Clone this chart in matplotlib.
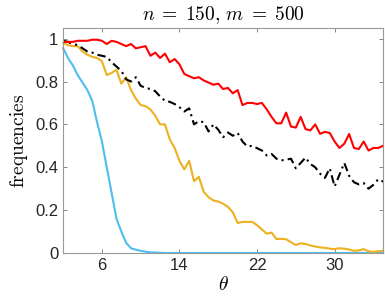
import numpy as np
import matplotlib
matplotlib.use('Agg')
import matplotlib.pyplot as plt

theta = np.arange(2, 35.01, 0.5)

red = [0.985, 0.985, 0.985, 0.99, 0.99, 0.99, 0.995, 0.995, 0.99, 0.975,
       0.99, 0.985, 0.975, 0.965, 0.975, 0.955, 0.96, 0.965, 0.92, 0.935,
       0.91, 0.93, 0.89, 0.905, 0.88, 0.835, 0.825, 0.815, 0.82, 0.805,
       0.795, 0.785, 0.79, 0.765, 0.77, 0.745, 0.76, 0.69, 0.70, 0.70,
       0.695, 0.70, 0.67, 0.635, 0.605, 0.605, 0.655, 0.59, 0.585, 0.635,
       0.578, 0.572, 0.60, 0.556, 0.565, 0.56, 0.52, 0.49, 0.51, 0.555,
       0.49, 0.485, 0.52, 0.478, 0.49, 0.49, 0.50]

black = [0.99, 0.985, 0.975, 0.97, 0.955, 0.94, 0.935, 0.925, 0.92, 0.915,
         0.89, 0.87, 0.85, 0.81, 0.80, 0.82, 0.78, 0.77, 0.765, 0.755,
         0.73, 0.71, 0.705, 0.695, 0.68, 0.66, 0.675, 0.60, 0.615, 0.61,
         0.567, 0.60, 0.575, 0.54, 0.562, 0.547, 0.56, 0.52, 0.497, 0.50,
         0.489, 0.478, 0.455, 0.462, 0.44, 0.432, 0.435, 0.44, 0.395, 0.42,
         0.445, 0.415, 0.40, 0.37, 0.35, 0.395, 0.31, 0.365, 0.42, 0.36,
         0.33, 0.32, 0.326, 0.30, 0.318, 0.344, 0.333]

orange = [0.98, 0.97, 0.965, 0.965, 0.94, 0.925, 0.915, 0.91, 0.895, 0.83,
          0.84, 0.855, 0.79, 0.82, 0.76, 0.72, 0.69, 0.685, 0.67, 0.64,
          0.60, 0.60, 0.53, 0.49, 0.43, 0.39, 0.43, 0.335, 0.355, 0.285,
          0.26, 0.245, 0.24, 0.23, 0.215, 0.19, 0.14, 0.145, 0.145, 0.145,
          0.13, 0.11, 0.09, 0.095, 0.065, 0.066, 0.064, 0.05, 0.037, 0.045,
          0.042, 0.035, 0.03, 0.026, 0.024, 0.02, 0.018, 0.022, 0.02, 0.016,
          0.01, 0.012, 0.018, 0.008, 0.005, 0.008, 0.01]

blue = [0.955, 0.91, 0.875, 0.83, 0.795, 0.76, 0.71, 0.61, 0.52, 0.40,
        0.28, 0.16, 0.10, 0.047, 0.022, 0.015, 0.01, 0.006, 0.003, 0.002,
        0.001] + [0.0] * 46

xticks = [6, 14, 22, 30]
yticks = [0, 0.2, 0.4, 0.6, 0.8, 1]

plt.rcParams['mathtext.fontset'] = 'cm'
plt.rcParams['font.family'] = ['Liberation Sans', 'DejaVu Sans']

fig = plt.figure(figsize=(3.85, 3.07), dpi=100)
ax = fig.add_axes([0.164, 0.176, 0.831, 0.733])

ax.plot(theta, blue, color='#4DBEEE', lw=1.5, clip_on=False)
ax.plot(theta, orange, color='#EDB120', lw=1.5, clip_on=False)
ax.plot(theta, black, color='black', lw=1.5, ls=(0, (4, 2, 1, 2)))
ax.plot(theta, red, color='#FF0000', lw=1.5)

ax.set_xlim(2, 35)
ax.set_ylim(0, 1.05)
ax.set_xticks(xticks)
ax.set_yticks(yticks)
ax.set_yticklabels(['0', '0.2', '0.4', '0.6', '0.8', '1'])
ax.tick_params(direction='in', top=True, right=True, length=3, width=0.6,
               color='0.45', labelsize=12, labelcolor='#262626')
for s in ax.spines.values():
    s.set_color('0.6')
    s.set_linewidth(0.8)

# spacing like LaTeX around = and after the comma
ax.set_title(r'$n\;=\;150,\,m\;=\;500$', fontsize=14, pad=6)
ax.set_xlabel(r'$\theta$', fontsize=14, labelpad=2)
ax.set_ylabel(r'$\mathrm{frequencies}$', fontsize=14, labelpad=4)

fig.savefig('out.png', dpi=100)
